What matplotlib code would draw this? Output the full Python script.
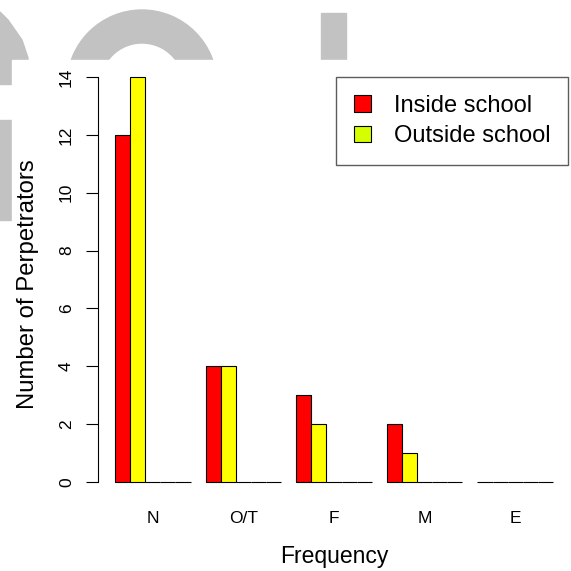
#! /usr/bin/env python

import matplotlib
matplotlib.use('Agg')

import matplotlib.pyplot as plt
from matplotlib.patches import Patch, Rectangle, Wedge, Polygon
import numpy as np

# frequency categories and counts of perpetrators
categories = ['N', 'O/T', 'F', 'M', 'E']
inside_school = [12, 4, 3, 2, 0]
outside_school = [14, 4, 2, 1, 0]
empty_slot = [0, 0, 0, 0, 0]
yticks = [0, 2, 4, 6, 8, 10, 12, 14]

W = 571.0


def px(x, y):
    # image pixel (from top-left) -> figure fraction
    return (x / W, 1 - y / W)


def main():
    plt.rcParams['font.family'] = ['Liberation Sans', 'DejaVu Sans']

    fig = plt.figure(figsize=(5.71, 5.71), dpi=100)

    # faint watermark behind the plot image
    grey = '#c2c2c2'
    fig.patches.append(Wedge(px(142, 85), 75 / W, 0, 360, width=33 / W,
                             transform=fig.transFigure, color=grey, zorder=-2))
    fig.patches.append(Rectangle(px(321, 60), 25 / W, 47 / W,
                                 transform=fig.transFigure, color=grey, zorder=-2))
    fig.patches.append(Polygon([px(0, 12), px(8, 20), px(22, 40), px(28, 58),
                                px(28, 60), px(0, 60)],
                               transform=fig.transFigure, color=grey, zorder=-2))
    fig.patches.append(Rectangle(px(0, 84), 12 / W, 24 / W,
                                 transform=fig.transFigure, color=grey, zorder=-2))
    fig.patches.append(Rectangle(px(0, 220), 12 / W, 100 / W,
                                 transform=fig.transFigure, color=grey, zorder=-2))
    fig.patches.append(Rectangle(px(12, W), 1, (W - 60) / W,
                                 transform=fig.transFigure, color='white', zorder=-1))

    ax = fig.add_axes([97.5 / W, 1 - 498.2 / W, 473 / W, 437.4 / W])
    ax.set_facecolor('none')

    n = len(categories)
    group = np.arange(n) * 6
    series = [(inside_school, '#ff0000'), (outside_school, '#ffff00'),
              (empty_slot, 'white'), (empty_slot, 'white'), (empty_slot, 'white')]
    for k, (vals, col) in enumerate(series):
        ax.bar(group + 1.5 + k, vals, width=1, color=col,
               edgecolor='black', linewidth=0.8)

    ax.set_xlim(-0.16, 31.16)
    ax.set_ylim(-0.56, 14.56)

    for s in ['top', 'right', 'bottom']:
        ax.spines[s].set_visible(False)
    ax.spines['left'].set_bounds(0, 14)
    ax.spines['left'].set_linewidth(0.8)

    ax.set_yticks(yticks)
    ax.tick_params(axis='y', length=9, width=0.8, pad=8, labelsize=12.5,
                   labelrotation=90)
    for lab in ax.get_yticklabels():
        lab.set_va('center')

    ax.set_xticks(group + 3.5)
    ax.set_xticklabels(categories)
    ax.tick_params(axis='x', length=0, pad=9.5, labelsize=12.5)

    ax.set_xlabel('Frequency', fontsize=16.5)
    ax.xaxis.set_label_coords(0.5, -0.108)
    ax.set_ylabel('Number of Perpetrators', fontsize=17.2)
    ax.yaxis.set_label_coords(-0.124, 0.49)

    handles = [Patch(facecolor='#ff0000', edgecolor='black', linewidth=0.8),
               Patch(facecolor='#d4ff00', edgecolor='black', linewidth=0.8)]
    leg = ax.legend(handles, ['Inside school', 'Outside school'],
                    loc='upper left', bbox_to_anchor=px(336, 77),
                    bbox_transform=fig.transFigure, fontsize=17,
                    frameon=True, fancybox=False, handlelength=0.75,
                    handleheight=0.7, handletextpad=0.95, labelspacing=0.36,
                    borderpad=0.75, borderaxespad=0)
    leg.get_frame().set_edgecolor('#333333')
    leg.get_frame().set_linewidth(1.0)

    fig.savefig('out.png', dpi=100)


if __name__ == '__main__':
    main()
